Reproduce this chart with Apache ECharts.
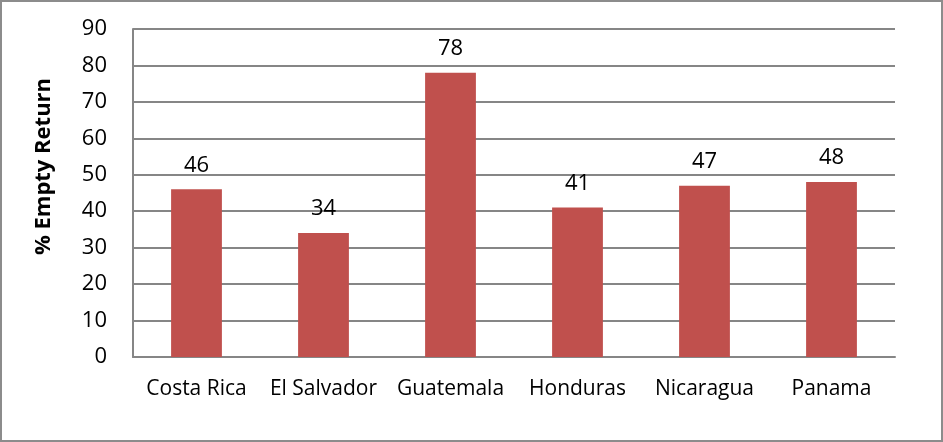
<!DOCTYPE html>
<html>
<head>
<meta charset="utf-8">
<script src="https://cdn.jsdelivr.net/npm/echarts@6/dist/echarts.min.js"></script>
<style>
  html, body { margin: 0; padding: 0; background: #fff; }
  #chart { width: 943px; height: 442px; box-sizing: border-box; border: 2px solid #8c8c8c; }
</style>
</head>
<body>
<div id="chart"></div>
<script>
const countries = ['Costa Rica', 'El Salvador', 'Guatemala', 'Honduras', 'Nicaragua', 'Panama'];
const emptyReturn = [46, 34, 78, 41, 47, 48];
const axisTitle = '% Empty Return';

const chart = echarts.init(document.getElementById('chart'));
const font = 'Open Sans, Calibri, sans-serif';
chart.setOption({
  animation: false,
  grid: { left: 131, right: 46, top: 27, bottom: 83 },
  graphic: [{
    type: 'text',
    x: 42, y: 164.5,
    rotation: Math.PI / 2,
    style: {
      text: axisTitle,
      fill: '#000',
      font: 'bold 22px ' + font,
      align: 'center',
      verticalAlign: 'middle'
    }
  }],
  xAxis: {
    type: 'category',
    data: countries,
    axisLine: { lineStyle: { color: '#868686', width: 2 } },
    axisTick: { show: false },
    axisLabel: { interval: 0, color: '#000', fontSize: 21, fontFamily: font, margin: 22 }
  },
  yAxis: {
    type: 'value',
    min: 0, max: 90, interval: 10,
    axisLine: { show: true, lineStyle: { color: '#868686', width: 2 } },
    axisTick: { show: false },
    splitLine: { lineStyle: { color: '#868686', width: 2 } },
    axisLabel: { color: '#000', fontSize: 22, fontFamily: font, margin: 26 }
  },
  series: [{
    type: 'bar',
    data: emptyReturn,
    barWidth: '40%',
    itemStyle: { color: '#c0504d' },
    label: { show: true, position: 'top', distance: 13, color: '#000', fontSize: 22, fontFamily: font }
  }]
});
</script>
</body>
</html>
